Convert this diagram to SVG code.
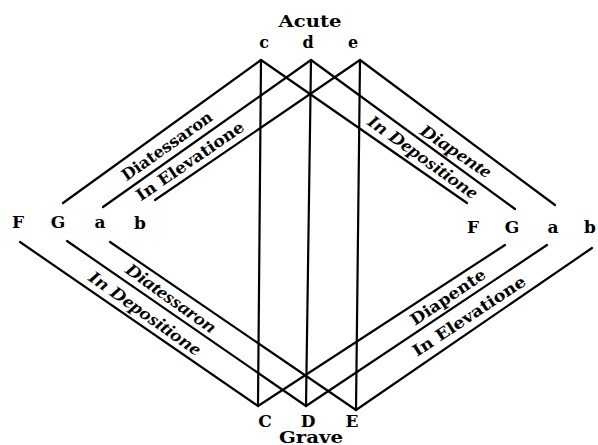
<svg xmlns="http://www.w3.org/2000/svg" width="598" height="445" viewBox="0 0 598 445">
<style>
.ln{stroke:#000;stroke-width:2.2;fill:none;stroke-linecap:round}
.note{font-family:"DejaVu Serif","Liberation Serif",serif;font-weight:bold;font-size:17px;fill:#000;text-anchor:middle}
.top{font-size:16px}
.ttl{font-family:"DejaVu Serif","Liberation Serif",serif;font-weight:bold;font-size:16px;fill:#000;text-anchor:middle}
.up{font-family:"DejaVu Serif","Liberation Serif",serif;font-weight:bold;font-size:16px;fill:#000;text-anchor:middle;dominant-baseline:central}
.it{font-family:"Liberation Serif","DejaVu Serif",serif;font-weight:bold;font-style:italic;font-size:18px;fill:#000;text-anchor:middle;dominant-baseline:central}
</style>
<rect width="598" height="445" fill="#fff"/>
<g id="connectors">
<line class="ln" x1="261" y1="60" x2="258" y2="406"/>
<line class="ln" x1="311" y1="60" x2="306" y2="406"/>
<line class="ln" x1="360" y1="60" x2="356" y2="410"/>
<line class="ln" x1="261" y1="60" x2="63" y2="203"/>
<line class="ln" x1="311" y1="60" x2="103" y2="207"/>
<line class="ln" x1="360" y1="60" x2="155" y2="200"/>
<line class="ln" x1="261" y1="60" x2="467" y2="203"/>
<line class="ln" x1="311" y1="60" x2="515" y2="209"/>
<line class="ln" x1="360" y1="60" x2="555" y2="205"/>
<line class="ln" x1="20" y1="242" x2="258" y2="406"/>
<line class="ln" x1="67" y1="241" x2="306" y2="406"/>
<line class="ln" x1="110" y1="242" x2="356" y2="410"/>
<line class="ln" x1="258" y1="406" x2="505" y2="245"/>
<line class="ln" x1="306" y1="406" x2="547" y2="245"/>
<line class="ln" x1="356" y1="410" x2="592" y2="248"/>
</g>
<g id="interval-labels">
<text class="up" transform="translate(167,146) rotate(-35.3)" textLength="107" lengthAdjust="spacingAndGlyphs">Diatessaron</text>
<text class="up" transform="translate(190,161) rotate(-34.5)" textLength="127" lengthAdjust="spacingAndGlyphs">In Elevatione</text>
<text class="it" transform="translate(456,151) rotate(33.8)" textLength="82" lengthAdjust="spacingAndGlyphs">Diapente</text>
<text class="it" transform="translate(423,157) rotate(35.5)" textLength="131" lengthAdjust="spacingAndGlyphs">In Depositione</text>
<text class="it" transform="translate(171,298) rotate(35.6)" textLength="107" lengthAdjust="spacingAndGlyphs">Diatessaron</text>
<text class="it" transform="translate(145,313) rotate(35.3)" textLength="133" lengthAdjust="spacingAndGlyphs">In Depositione</text>
<text class="up" transform="translate(448,297) rotate(-34)" textLength="87" lengthAdjust="spacingAndGlyphs">Diapente</text>
<text class="up" transform="translate(469,316) rotate(-33.5)" textLength="132" lengthAdjust="spacingAndGlyphs">In Elevatione</text>
</g>
<g id="acute"><text class="ttl" x="310" y="27" textLength="63" lengthAdjust="spacingAndGlyphs">Acute</text></g>
<g id="note-c"><text class="note top" x="264" y="48">c</text></g>
<g id="note-d"><text class="note top" x="308" y="48">d</text></g>
<g id="note-e"><text class="note top" x="353" y="48">e</text></g>
<g id="note-C"><text class="note" x="265" y="427">C</text></g>
<g id="note-D"><text class="note" x="308" y="427">D</text></g>
<g id="note-E"><text class="note" x="352" y="427">E</text></g>
<g id="grave"><text class="ttl" x="311" y="443" textLength="64" lengthAdjust="spacingAndGlyphs">Grave</text></g>
<g id="note-F-left"><text class="note" x="18" y="228">F</text></g>
<g id="note-G-left"><text class="note" x="58" y="228">G</text></g>
<g id="note-a-left"><text class="note" x="100" y="228">a</text></g>
<g id="note-b-left"><text class="note" x="140" y="229">b</text></g>
<g id="note-F-right"><text class="note" x="473" y="233">F</text></g>
<g id="note-G-right"><text class="note" x="512" y="233">G</text></g>
<g id="note-a-right"><text class="note" x="553" y="233">a</text></g>
<g id="note-b-right"><text class="note" x="590" y="233">b</text></g>
</svg>
